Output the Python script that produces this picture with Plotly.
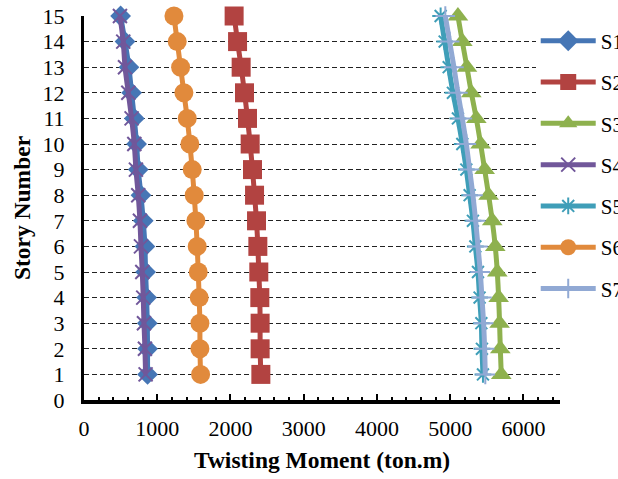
import plotly.graph_objects as go

# Story levels and twisting moment (ton.m) per load case
stories = list(range(1, 16))
s1 = [868, 868, 864, 855, 841, 832, 809, 778, 741, 718, 687, 650, 614, 560, 500]
s2 = [2415, 2405, 2405, 2401, 2387, 2374, 2356, 2329, 2301, 2269, 2233, 2192, 2146, 2097, 2050]
s3 = [5698, 5685, 5675, 5662, 5644, 5616, 5575, 5525, 5471, 5416, 5357, 5289, 5229, 5166, 5106]
s4 = [841, 832, 819, 809, 796, 778, 764, 741, 709, 687, 650, 605, 560, 536, 491]
s5 = [5448, 5434, 5426, 5402, 5380, 5344, 5311, 5266, 5221, 5166, 5106, 5038, 4980, 4925, 4870]
s6 = [1592, 1583, 1583, 1573, 1560, 1546, 1528, 1505, 1478, 1446, 1410, 1364, 1319, 1273, 1228]
s7 = [5480, 5471, 5457, 5434, 5412, 5380, 5348, 5311, 5266, 5221, 5166, 5106, 5052, 4993, 4934]

series = [
    ("S1", s1, "#4676B5", "diamond", 16),
    ("S2", s2, "#B24341", "square", 19),
    ("S3", s3, "#8EB14E", "triangle-up", 18),
    ("S4", s4, "#71579A", "x-thin-open", 14),
    ("S5", s5, "#3F9EB8", "asterisk-open", 14),
    ("S6", s6, "#E18A3C", "circle", 19),
    ("S7", s7, "#91A9D4", "cross-thin-open", 14),
]

FONT = "Liberation Serif, Times New Roman, serif"

fig = go.Figure()
for i, (name, vals, color, symbol, size) in enumerate(series):
    open_sym = symbol.endswith("open")
    fig.add_trace(go.Scatter(
        x=vals, y=stories, name=name, mode="lines+markers",
        legendgroup=name,
        line=dict(color=color, width=5, shape="spline", smoothing=0.6),
        marker=dict(symbol=symbol, size=size, color=color,
                    line=dict(color=color, width=2 if open_sym else 0)),
        cliponaxis=False,
    ))

fig.update_layout(
    width=618, height=479,
    margin=dict(l=84, r=58, t=16, b=79, autoexpand=False),
    paper_bgcolor="white", plot_bgcolor="white",
    font=dict(family=FONT, color="black", size=22),
    showlegend=True,
    legend=dict(
        x=0.949, y=1.005, xanchor="left", yanchor="top",
        xref="paper", yref="paper",
        bgcolor="white", borderwidth=0,
        font=dict(family=FONT, size=21, color="black"),
        traceorder="grouped", tracegroupgap=11,
        itemwidth=55,
        title=dict(text=" ", font=dict(size=5)),
    ),
    xaxis=dict(
        range=[0, 6500], dtick=1000, tick0=0,
        showgrid=False, zeroline=False,
        showline=True, linecolor="black", linewidth=4,
        ticks="inside", ticklen=6, tickwidth=2, tickcolor="black",
        minor=dict(dtick=200, ticks="inside", ticklen=3, tickwidth=2,
                   tickcolor="black", showgrid=False),
        tickfont=dict(family=FONT, size=22),
        ticklabelstandoff=6,
        title=dict(text="<b>Twisting Moment (ton.m)</b>",
                   font=dict(family=FONT, size=23.5), standoff=12),
    ),
    yaxis=dict(
        range=[0, 15], dtick=1, tick0=0,
        showgrid=True, gridcolor="#222222", gridwidth=1, griddash="5px,3px",
        zeroline=False,
        showline=True, linecolor="black", linewidth=3,
        ticks="", tickfont=dict(family=FONT, size=22),
        ticklabelstandoff=12,
        title=dict(text="<b>Story Number</b>",
                   font=dict(family=FONT, size=23.5), standoff=6),
    ),
)

# let the legend use the full height so every entry stays visible
try:
    fig.update_layout(legend_maxheight=420)
except ValueError:
    pass

fig.write_html("out.html")
